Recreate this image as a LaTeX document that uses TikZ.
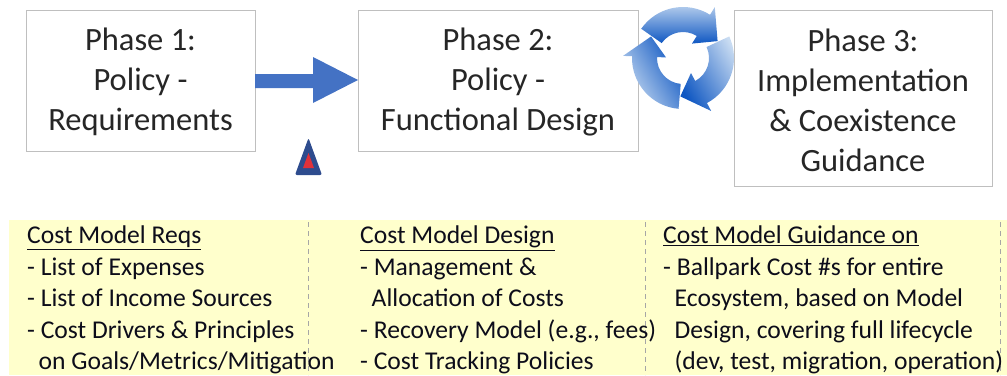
\documentclass[tikz,border=0pt]{standalone}
\usepackage{fontspec}
\setmainfont{Carlito}
\usetikzlibrary{shapes.geometric}
\definecolor{boxline}{HTML}{BFBFBF}
\definecolor{boxtext}{HTML}{262626}
\definecolor{arrowblue}{HTML}{4472C4}
\definecolor{panel}{HTML}{FFFFCC}
\definecolor{dashgray}{HTML}{A6A6A6}
\definecolor{lighticon}{HTML}{C9DCF2}
\definecolor{darkicon}{HTML}{0F57C2}
\definecolor{navytri}{HTML}{2E4C8E}
\definecolor{redtri}{HTML}{E0313A}
\definecolor{bottext}{HTML}{0D0D1A}
\tikzset{
  phasebox/.style={draw=boxline, line width=0.8pt, fill=white},
  phasetext/.style={text=boxtext, align=center, font=\fontsize{32.5}{40}\selectfont, inner sep=0pt},
  coltext/.style={text=bottext, align=left, anchor=north west, inner sep=0pt, font=\fontsize{25.6}{31.4}\selectfont},
  sepline/.style={draw=dashgray, dashed, line width=0.8pt, dash pattern=on 5pt off 4pt},
}
\newcommand{\ind}{\hspace*{0.45em}}
\begin{document}
\begin{tikzpicture}[x=1pt,y=-1pt]
\useasboundingbox (0,0) rectangle (1007,375);
% boxes
\draw[phasebox] (26,10) rectangle (255,151);
\draw[phasebox] (358,10) rectangle (638,151);
\draw[phasebox] (734,10) rectangle (992,186);
\node[phasetext] (p1) at (140.5,82) {Phase 1:\\Policy -\\Requirements};
\node[phasetext] (p2) at (498,82) {Phase 2:\\Policy -\\Functional Design};
\node[phasetext] (p3) at (863,100) {Phase 3:\\Implementation\\\& Coexistence\\Guidance};
% big arrow
\fill[arrowblue] (255,74) -- (313,74) -- (313,57) -- (358,80) -- (313,103) -- (313,88) -- (255,88) -- cycle;
% small triangle
\fill[navytri, rounded corners=2pt] (295,175) -- (308.5,138) -- (322,175) -- cycle;
\fill[redtri] (303,168) -- (308.5,153) -- (314,168) -- cycle;
% cycle icon
\begin{scope}[shift={(683,58)}, yscale=-1]
  \def\R{51}\def\r{26}\def\Ro{60}\def\ri{17}\def\m{38.5}
  % arrow A: body 145 -> 60, head 60 -> 28
  \shade[left color=lighticon, right color=darkicon, shading angle=0]
    (145:\R) arc[start angle=145, end angle=58, radius=\R] -- (58:\Ro) -- (26:\m) -- (58:\ri) -- (58:\r)
    arc[start angle=58, end angle=145, radius=\r] -- cycle;
  % arrow B
  \shade[left color=lighticon, right color=darkicon, shading angle=-60]
    (25:\R) arc[start angle=25, end angle=-62, radius=\R] -- (-62:\Ro) -- (-94:\m) -- (-62:\ri) -- (-62:\r)
    arc[start angle=-62, end angle=25, radius=\r] -- cycle;
  % arrow C
  \shade[left color=lighticon, right color=darkicon, shading angle=120]
    (-95:\R) arc[start angle=-95, end angle=-182, radius=\R] -- (-182:\Ro) -- (-214:\m) -- (-182:\ri) -- (-182:\r)
    arc[start angle=-182, end angle=-95, radius=\r] -- cycle;
\end{scope}
% bottom panel
\fill[panel] (9,220) rectangle (1007,375);
\draw[sepline] (308,222) -- (308,375);
\draw[sepline] (645,222) -- (645,375);
\draw[sepline] (1000,222) -- (1000,375);
\node[coltext] (c1) at (27,226) {\underline{Cost Model Reqs}\\- List of Expenses\\- List of Income Sources\\- Cost Drivers \& Principles\\\ind on Goals/Metrics/Mitigation};
\node[coltext] (c2) at (360,226) {\underline{Cost Model Design}\\- Management \&\\\ind Allocation of Costs\\- Recovery Model (e.g., fees)\\- Cost Tracking Policies};
\node[coltext] (c3) at (663,226) {\underline{Cost Model Guidance on}\\- Ballpark Cost \#s for entire\\\ind Ecosystem, based on Model\\\ind Design, covering full lifecycle\\\ind(dev, test, migration, operation)};
\end{tikzpicture}
\end{document}
